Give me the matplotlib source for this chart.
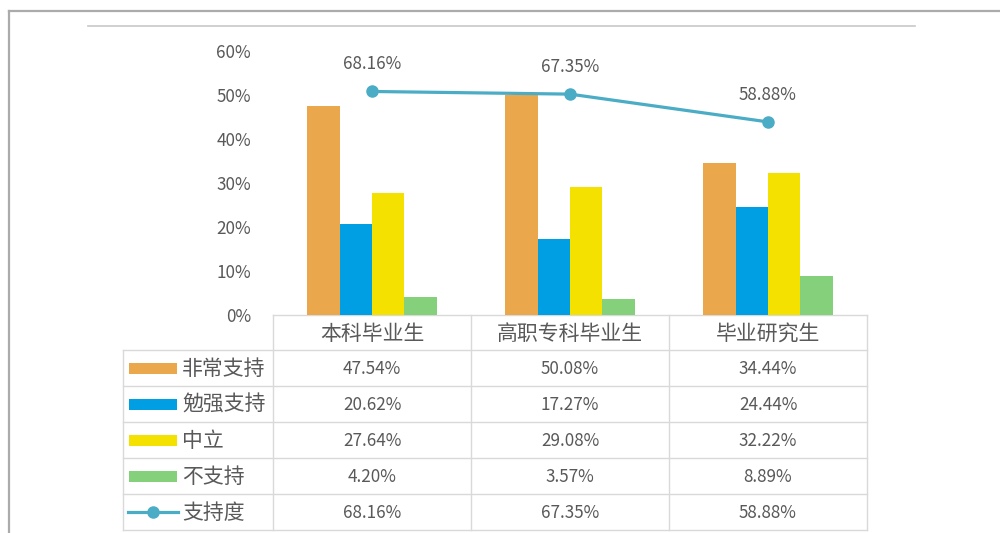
import matplotlib
matplotlib.use("Agg")
import matplotlib.pyplot as plt
import numpy as np
from matplotlib.patches import Rectangle

plt.rcParams['font.family'] = ['Noto Sans CJK SC', 'DejaVu Sans']

categories = ["本科毕业生", "高职专科毕业生", "毕业研究生"]
series_names = ["非常支持", "勉强支持", "中立", "不支持"]
very_support = [47.54, 50.08, 34.44]
reluctant = [20.62, 17.27, 24.44]
neutral = [27.64, 29.08, 32.22]
oppose = [4.20, 3.57, 8.89]
support_rate = [68.16, 67.35, 58.88]
line_name = "支持度"
yticks = [0, 10, 20, 30, 40, 50, 60]

bar_colors = ["#EBA74B", "#009FE3", "#F5E100", "#85D07A"]
line_color = "#4BACC6"
text_color = "#595959"
grid_color = "#D9D9D9"
num_fs = 12.3

W, H = 1000, 533
fig = plt.figure(figsize=(W / 100, H / 100), dpi=100)

# pixel-space overlay for frame and data table
ov = fig.add_axes([0, 0, 1, 1])
ov.set_xlim(0, W)
ov.set_ylim(H, 0)
ov.axis("off")

# plot area geometry (pixels)
px_l, px_r = 273, 867
py_top, py_bot = 51, 315

ax = fig.add_axes([px_l / W, 1 - py_bot / H, (px_r - px_l) / W, (py_bot - py_top) / H])
ax.set_zorder(2)
ax.patch.set_alpha(0)
x = np.arange(len(categories))
series = [very_support, reluctant, neutral, oppose]
bw = 0.163
for i, (vals, c) in enumerate(zip(series, bar_colors)):
    ax.bar(x + (i - 1.5) * bw, vals, width=bw, color=c, zorder=2)
ax.set_xlim(-0.5, len(categories) - 0.5)
ax.set_ylim(0, 60)
ax.set_yticks(yticks)
ax.set_yticklabels([f"{t}%" for t in yticks], color=text_color, fontsize=num_fs)
ax.tick_params(axis="y", length=0, pad=16)
ax.set_xticks([])
for s in ax.spines.values():
    s.set_visible(False)

# secondary scale for the support rate line
ax2 = ax.twinx()
ax2.set_ylim(0, 80.5)
ax2.set_xlim(-0.5, len(categories) - 0.5)
ax2.plot(x, support_rate, color=line_color, lw=2.3, marker="o", markersize=8, zorder=3)
for xi, v in zip(x, support_rate):
    ax2.annotate(f"{v:.2f}%", (xi, v), xytext=(0, 13), textcoords="offset points",
                 ha="center", va="bottom", color=text_color, fontsize=num_fs)
ax2.set_yticks([])
for s in ax2.spines.values():
    s.set_visible(False)

# outer frame
ov.plot([9, W], [10.5, 10.5], color="#ABABAB", lw=1.6)
ov.plot([9, 9], [10.5, H], color="#ABABAB", lw=1.6)
ov.plot([88, 915], [25.5, 25.5], color="#C8C8C8", lw=1.2)

# data table
col_edges = [px_l + i * (px_r - px_l) / len(categories) for i in range(len(categories) + 1)]
row_edges = [315, 350, 386, 422, 458, 494, 530]
leg_l = 123
lw_t = 1.0
ov.plot([px_l, px_r], [row_edges[0], row_edges[0]], color=grid_color, lw=lw_t)
for yy in row_edges[1:]:
    ov.plot([leg_l, px_r], [yy, yy], color=grid_color, lw=lw_t)
for xx in col_edges:
    ov.plot([xx, xx], [row_edges[0], row_edges[-1]], color=grid_color, lw=lw_t)
ov.plot([leg_l, leg_l], [row_edges[1], row_edges[-1]], color=grid_color, lw=lw_t)

for j, cat in enumerate(categories):
    cx = (col_edges[j] + col_edges[j + 1]) / 2
    ov.text(cx, (row_edges[0] + row_edges[1]) / 2 + 1, cat, ha="center", va="center",
            color=text_color, fontsize=15)

rows = series + [support_rate]
names = series_names + [line_name]
for r, (vals, name) in enumerate(zip(rows, names)):
    cy = (row_edges[r + 1] + row_edges[r + 2]) / 2
    if r < len(series):
        ov.add_patch(Rectangle((129, cy - 5.5), 48, 11, color=bar_colors[r], lw=0))
    else:
        ov.plot([128, 178], [cy, cy], color=line_color, lw=2.3)
        ov.plot([153], [cy], marker="o", color=line_color, markersize=8)
    ov.text(182, cy + 1, name, ha="left", va="center", color=text_color, fontsize=15)
    for j, v in enumerate(vals):
        cx = (col_edges[j] + col_edges[j + 1]) / 2
        ov.text(cx, cy + 1, f"{v:.2f}%", ha="center", va="center", color=text_color, fontsize=num_fs)

fig.savefig("out.png", dpi=100)
